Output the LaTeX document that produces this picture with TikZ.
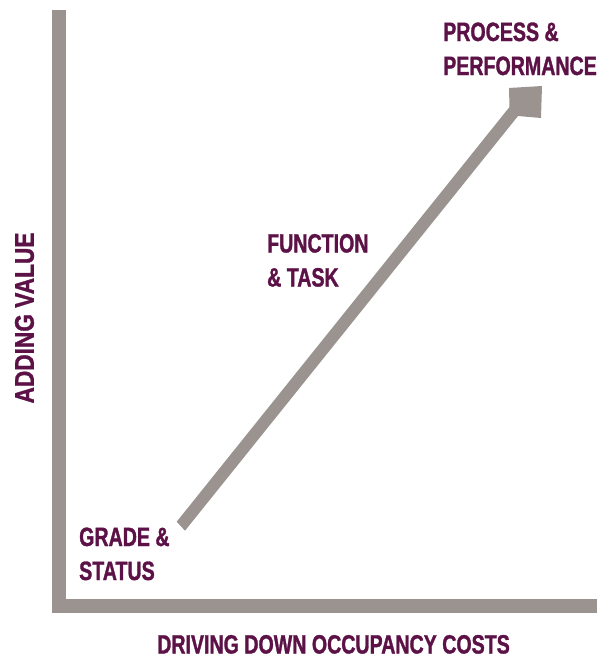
\documentclass[tikz,border=0pt]{standalone}
\usepackage{fontspec}
\setmainfont{Liberation Sans}[FakeStretch=0.74, BoldFeatures={FakeBold=1.2}]
\newfontfamily\widerfont{Liberation Sans}[FakeStretch=0.84, BoldFeatures={FakeBold=1.2}]
\usetikzlibrary{positioning}

\definecolor{axisgrey}{RGB}{155,147,144}
\definecolor{labelplum}{RGB}{92,18,70}

\tikzset{
    stagelabel/.style={anchor=base west, inner sep=0, align=left, text=labelplum,
        font=\fontsize{26.5}{34}\selectfont\bfseries},
    axislabel/.style={inner sep=0, text=labelplum,
        font=\fontsize{26.5}{34}\selectfont\bfseries},
}

\begin{document}
\begin{tikzpicture}[x=1pt, y=-1pt]
    \useasboundingbox (0,0) rectangle (597,659);
    % axes
    \draw [-, line width=14pt, axisgrey, line join=miter] (58.75,10)
        to (58.75,605.5) to (597,605.5);
    % rising arrow
    \fill [axisgrey] (176.7,521.7) -- (509.5,107) -- (509,88) -- (542,86)
        -- (541,118) -- (518,116) -- (185,530.7) -- cycle;
    % stages
    \node [stagelabel] (grade) at (79,580) {GRADE \&\\STATUS};
    \node [stagelabel] (function) at (267,286.5) {FUNCTION\\\& TASK};
    \node [stagelabel] (process) at (443,75) {PROCESS \&\\PERFORMANCE};
    % axis titles
    \node [axislabel, anchor=base west] (costs) at (157,653.5) {DRIVING DOWN OCCUPANCY COSTS};
    \node [axislabel, rotate=90, font=\fontsize{27}{34}\widerfont\bfseries] (value) at (24.5,318) {ADDING VALUE};
\end{tikzpicture}
\end{document}
